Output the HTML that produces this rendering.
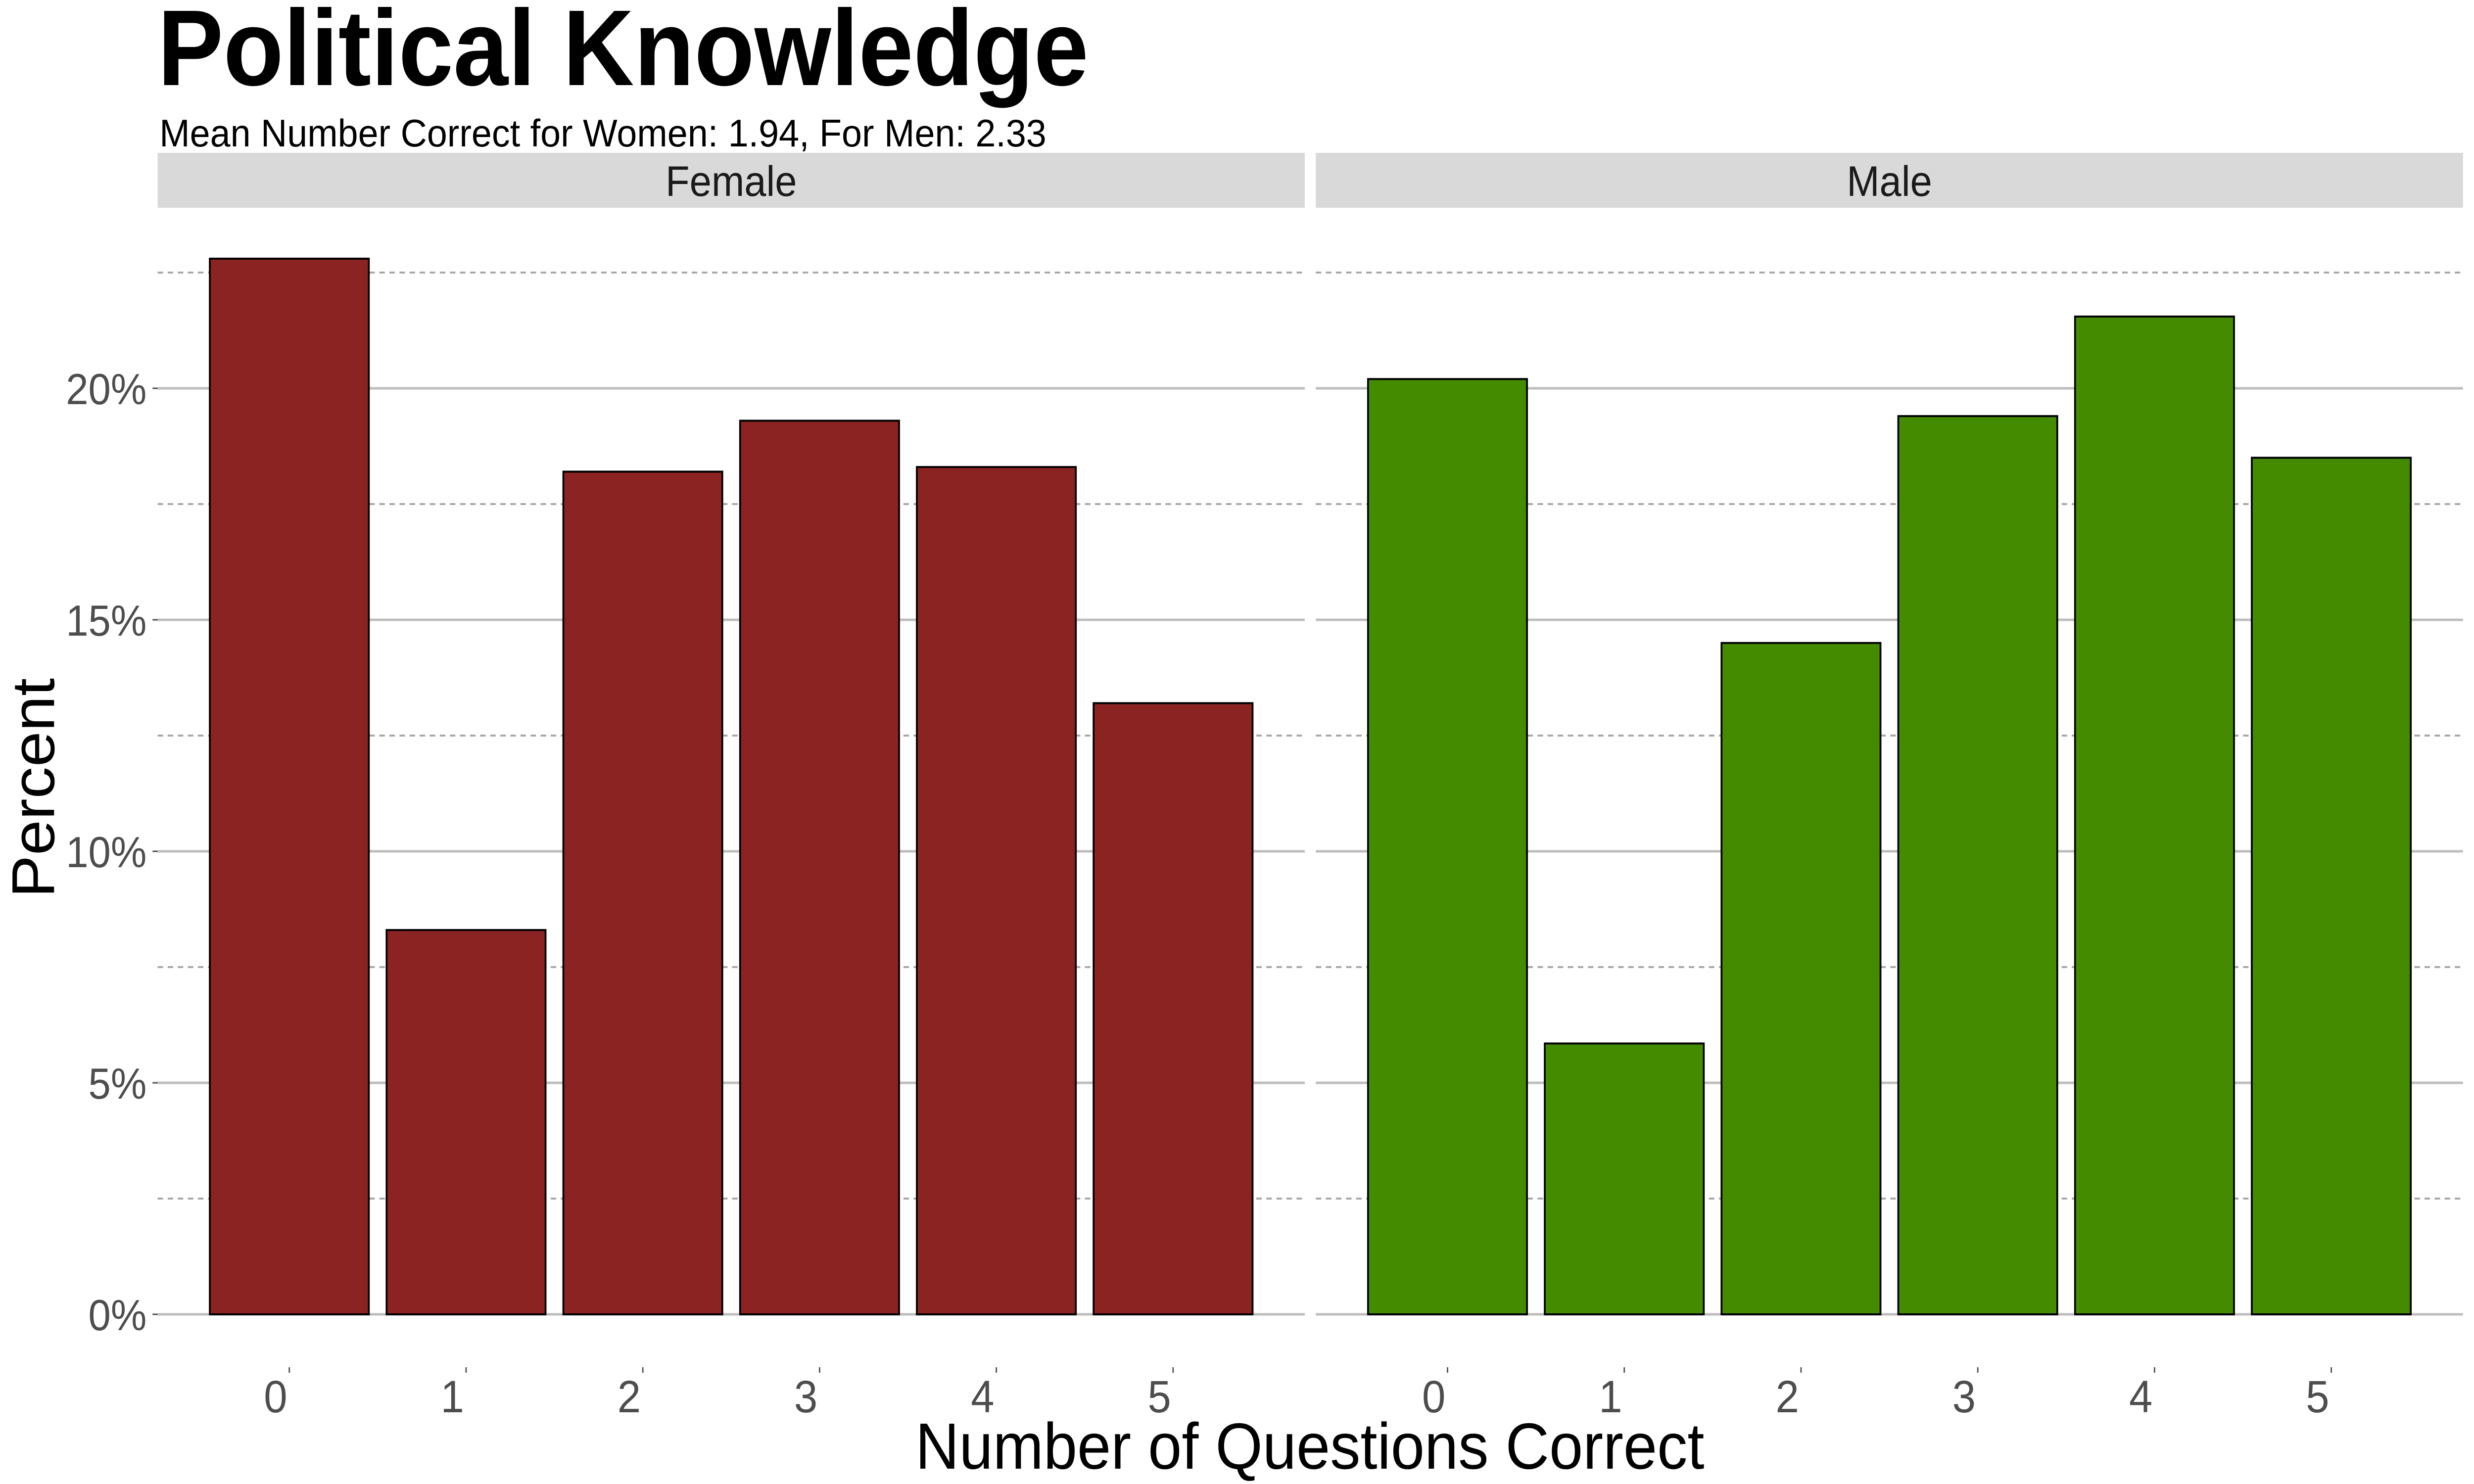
<!DOCTYPE html>
<html><head><meta charset="utf-8">
<style>
html,body{margin:0;padding:0;background:#fff;overflow:hidden;width:100vw;height:100vh;}
svg{display:block;font-family:"Liberation Sans",sans-serif;width:100vw;height:100vh;}
</style></head>
<body>
<svg id="chart" viewBox="0 0 5400 3000" preserveAspectRatio="none" xmlns="http://www.w3.org/2000/svg">
<rect width="5400" height="3000" fill="#fff"/>
<text x="344" y="172" font-size="218" font-weight="bold" fill="#000" textLength="2032" lengthAdjust="spacingAndGlyphs">Political Knowledge</text>
<text x="348" y="296" font-size="78" fill="#000" textLength="1936" lengthAdjust="spacingAndGlyphs">Mean Number Correct for Women: 1.94, For Men: 2.33</text>
<g id="panels"></g>
<text x="2859" y="2969" font-size="132" fill="#000" text-anchor="middle" textLength="1722" lengthAdjust="spacingAndGlyphs">Number of Questions Correct</text>
<text transform="translate(118,1593) rotate(-90)" font-size="132" fill="#000" text-anchor="middle" textLength="444" lengthAdjust="spacingAndGlyphs">Percent</text>
</svg>
<script>
const categories = ["0","1","2","3","4","5"];
const femaleValues = [22.8, 8.3, 18.2, 19.3, 18.3, 13.2];
const maleValues = [20.2, 5.85, 14.5, 19.4, 21.55, 18.5];
const yTicks = [0, 5, 10, 15, 20];
const yTickLabels = ["0%", "5%", "10%", "15%", "20%"];
const yMinor = [2.5, 7.5, 12.5, 17.5, 22.5];
const panelNames = ["Female", "Male"];

const NS = "http://www.w3.org/2000/svg";
const g = document.getElementById("panels");
function el(tag, attrs, parent) {
  const e = document.createElementNS(NS, tag);
  for (const k in attrs) e.setAttribute(k, attrs[k]);
  (parent || g).appendChild(e);
  return e;
}
const y0 = 2657, pxPerPct = 93.6;
function yScale(v) { return y0 - v * pxPerPct; }
const panels = [
  {x0: 344, x1: 2848, values: femaleValues, color: "#8B2323"},
  {x0: 2872, x1: 5376, values: maleValues, color: "#458B00"}
];
const pitch = 385.8, barW = 347;
function xScale(p, i) {
  const c = (p.x0 + p.x1) / 2;
  return c + (i - (categories.length - 1) / 2) * pitch;
}
panels.forEach((p, pi) => {
  const strip = el("rect", {x: p.x0, y: 309, width: p.x1 - p.x0, height: 111, fill: "#d9d9d9"});
  
  
  const st = el("text", {x: (p.x0 + p.x1) / 2, y: 396, "font-size": 86, fill: "#1a1a1a", "text-anchor": "middle"});
  st.textContent = panelNames[pi];
  
  
  yMinor.forEach(v => {
    const l = el("line", {x1: p.x0, x2: p.x1, y1: yScale(v), y2: yScale(v), stroke: "#a8a8a8", "stroke-width": 4, "stroke-dasharray": "12 10"});
    
    
  });
  yTicks.forEach(v => {
    const l = el("line", {x1: p.x0, x2: p.x1, y1: yScale(v), y2: yScale(v), stroke: "#bdbdbd", "stroke-width": 5});
    
    
  });
  categories.forEach((c, i) => {
    const cx = xScale(p, i);
    const v = p.values[i];
    const b = el("rect", {x: cx - barW / 2, y: yScale(v), width: barW, height: y0 - yScale(v), fill: p.color, stroke: "#000", "stroke-width": 4});
    
    
    const t = el("line", {x1: cx, x2: cx, y1: 2764, y2: 2775, stroke: "#4d4d4d", "stroke-width": 3});
    
    
    const lb = el("text", {x: cx - 30, y: 2855, "font-size": 92, fill: "#4d4d4d", "text-anchor": "middle"});
    lb.textContent = c;
    
    
  });
});
yTicks.forEach((v, i) => {
  const t = el("line", {x1: 333, x2: 344, y1: yScale(v), y2: yScale(v), stroke: "#4d4d4d", "stroke-width": 3});
  
  
  const lb = el("text", {x: 320, y: yScale(v) + 32, "font-size": 88, fill: "#4d4d4d", "text-anchor": "end"});
  lb.textContent = yTickLabels[i];
  
  
});
</script>
</body></html>
